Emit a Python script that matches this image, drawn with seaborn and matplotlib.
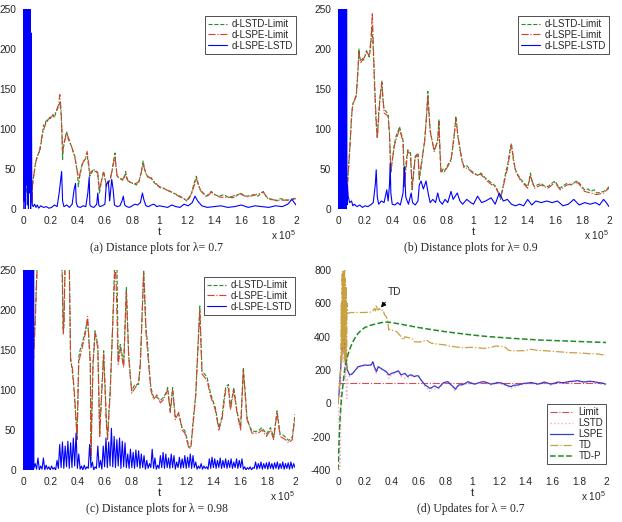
import numpy as np
import matplotlib
matplotlib.use("Agg")
import matplotlib.pyplot as plt
import seaborn as sns

# ---------------- data (t in units of 1e5) ----------------
x_ticks = [0, 0.2, 0.4, 0.6, 0.8, 1.0, 1.2, 1.4, 1.6, 1.8, 2.0]
x_tick_labels = ['0', '0.2', '0.4', '0.6', '0.8', '1', '1.2', '1.4', '1.6', '1.8', '2']
dist_y_ticks = [0, 50, 100, 150, 200, 250]
upd_y_ticks = [-400, -200, 0, 200, 400, 600, 800]
dist_labels = ['d-LSTD-Limit', 'd-LSPE-Limit', 'd-LSPE-LSTD']
upd_labels = ['Limit', 'LSTD', 'LSPE', 'TD', 'TD-P']
captions = ['(a) Distance plots for λ= 0.7', '(b) Distance plots for λ= 0.9',
            '(c) Distance plots for λ = 0.98', '(d) Updates for λ = 0.7']

# (a) lambda = 0.7
a_green = [(0,0),(0.004,420),(0.008,30),(0.012,400),(0.016,60),(0.02,380),(0.024,20),(0.028,350),(0.032,40),
 (0.036,300),(0.04,15),(0.044,280),(0.048,30),(0.052,240),(0.056,60),(0.06,20),(0.063,7),(0.068,25),(0.075,38),
 (0.083,45),(0.09,57),(0.1,62),(0.11,68),(0.125,74),(0.14,90),(0.15,105),(0.16,103),(0.17,112),(0.18,110),(0.19,115),
 (0.2,113),(0.21,116),(0.22,118),(0.23,114),(0.24,120),(0.25,124),(0.26,128),(0.27,133),(0.28,118),(0.285,95),
 (0.29,62),(0.295,75),(0.3,80),(0.31,90),(0.32,97),(0.33,88),(0.34,84),(0.357,78),(0.37,70),(0.38,66),(0.39,55),
 (0.4,43),(0.405,28),(0.415,40),(0.43,53),(0.44,58),(0.455,62),(0.47,66),(0.48,55),(0.49,41),(0.5,44),(0.515,49),
 (0.53,47),(0.547,45),(0.56,20),(0.575,35),(0.59,47),(0.6,40),(0.61,28),(0.625,32),(0.64,37),(0.655,50),(0.665,62),
 (0.674,70),(0.68,55),(0.69,41),(0.71,38),(0.73,36),(0.745,40),(0.752,47),(0.76,38),(0.77,35),(0.79,33),(0.81,32),
 (0.83,30),(0.85,35),(0.865,45),(0.875,55),(0.88,60),(0.89,50),(0.905,43),(0.92,38),(0.94,39),(0.96,33),(0.98,30),
 (1.0,28),(1.02,27),(1.05,24),(1.08,22),(1.1,20),(1.13,18),(1.15,16),(1.17,14),(1.2,10),(1.22,14),(1.235,20),
 (1.25,30),(1.265,38),(1.27,41),(1.285,30),(1.3,24),(1.32,20),(1.345,16),(1.36,19),(1.38,22),(1.4,18),(1.42,17),
 (1.44,16),(1.47,18),(1.5,15),(1.54,14),(1.57,17),(1.59,20),(1.62,17),(1.64,16),(1.67,17),(1.69,18),(1.72,16),
 (1.74,19),(1.76,22),(1.78,16),(1.8,13),(1.83,12),(1.86,10),(1.88,13),(1.91,12),(1.94,11),(1.96,12),(1.98,13),(2.0,14)]
a_red = [(0,0),(0.005,380),(0.01,50),(0.015,360),(0.02,30),(0.025,330),(0.03,40),(0.035,300),(0.04,20),(0.045,260),
 (0.05,50),(0.055,200),(0.06,30),(0.065,12),(0.07,30),(0.08,44),(0.09,55),(0.1,64),(0.12,72),(0.14,92),(0.16,104),
 (0.18,111),(0.2,114),(0.22,117),(0.24,121),(0.26,130),(0.27,143),(0.28,122),(0.29,72),(0.3,82),(0.32,95),(0.34,86),
 (0.36,76),(0.38,64),(0.4,45),(0.41,38),(0.43,55),(0.455,63),(0.47,72),(0.49,44),(0.515,50),(0.547,46),(0.56,24),
 (0.59,46),(0.61,30),(0.64,38),(0.674,66),(0.69,40),(0.73,37),(0.752,44),(0.77,35),(0.81,31),(0.85,34),(0.88,56),
 (0.905,42),(0.94,38),(0.98,31),(1.0,27),(1.05,24),(1.1,20),(1.15,15),(1.2,11),(1.235,19),(1.27,38),(1.3,23),
 (1.345,15),(1.38,21),(1.44,15),(1.5,14),(1.59,19),(1.64,15),(1.69,17),(1.76,21),(1.8,12),(1.86,11),(1.91,11),
 (1.96,11),(2.0,13)]
a_blue = [(0,0),(0.004,400),(0.008,10),(0.012,380),(0.016,0),(0.02,420),(0.024,30),(0.028,400),(0.032,5),(0.036,350),
 (0.04,0),(0.044,300),(0.048,20),(0.052,260),(0.056,0),(0.06,220),(0.064,40),(0.068,5),(0.075,3),(0.085,6),(0.095,2),
 (0.105,5),(0.115,1),(0.13,4),(0.15,2),(0.17,3),(0.19,1),(0.21,2),(0.23,5),(0.25,3),(0.265,20),(0.275,35),(0.283,47),
 (0.29,10),(0.3,3),(0.32,5),(0.34,2),(0.36,6),(0.375,25),(0.385,32),(0.39,8),(0.4,3),(0.42,2),(0.44,4),(0.46,3),
 (0.475,20),(0.485,40),(0.49,5),(0.5,3),(0.52,2),(0.54,6),(0.548,20),(0.555,5),(0.565,3),(0.58,4),(0.6,6),(0.61,30),
 (0.625,35),(0.635,10),(0.65,37),(0.66,25),(0.67,5),(0.69,3),(0.71,4),(0.725,10),(0.735,16),(0.745,5),(0.76,3),
 (0.78,2),(0.8,4),(0.82,6),(0.84,5),(0.86,8),(0.875,20),(0.885,12),(0.9,4),(0.92,3),(0.94,5),(0.96,6),(0.98,3),
 (1.0,4),(1.03,3),(1.06,2),(1.09,5),(1.12,3),(1.15,2),(1.18,6),(1.21,4),(1.24,8),(1.26,16),(1.28,10),(1.31,4),
 (1.35,2),(1.4,3),(1.45,4),(1.5,2),(1.55,3),(1.6,5),(1.65,2),(1.7,4),(1.75,3),(1.8,2),(1.85,4),(1.9,3),(1.94,6),
 (1.97,12),(2.0,5)]

# (b) lambda = 0.9
b_green = [(0,0),(0.004,400),(0.008,20),(0.012,380),(0.016,50),(0.02,350),(0.024,30),(0.028,320),(0.032,60),
 (0.036,300),(0.04,40),(0.044,270),(0.048,60),(0.052,200),(0.056,40),(0.06,5),(0.065,20),(0.075,45),(0.086,74),
 (0.095,100),(0.105,125),(0.11,132),(0.12,135),(0.135,141),(0.145,165),(0.155,200),(0.16,190),(0.167,185),(0.18,188),
 (0.19,186),(0.2,192),(0.21,198),(0.22,195),(0.23,190),(0.24,200),(0.25,228),(0.26,200),(0.27,160),(0.28,110),
 (0.29,90),(0.3,120),(0.31,140),(0.324,160),(0.33,140),(0.34,124),(0.355,122),(0.37,118),(0.38,95),(0.385,70),
 (0.39,45),(0.4,60),(0.417,82),(0.43,92),(0.445,98),(0.454,103),(0.465,95),(0.48,86),(0.49,28),(0.5,55),(0.515,74),
 (0.525,72),(0.535,70),(0.547,24),(0.56,50),(0.57,66),(0.59,70),(0.6,37),(0.62,60),(0.64,87),(0.655,120),(0.663,147),
 (0.67,125),(0.68,99),(0.695,85),(0.71,74),(0.725,80),(0.736,87),(0.745,112),(0.75,78),(0.76,45),(0.775,50),
 (0.785,47),(0.81,55),(0.834,62),(0.85,80),(0.86,95),(0.87,116),(0.885,90),(0.9,76),(0.915,60),(0.93,53),(0.945,55),
 (0.957,53),(0.98,48),(1.006,45),(1.03,42),(1.055,45),(1.08,40),(1.1,37),(1.13,33),(1.166,28),(1.185,20),(1.2,12),
 (1.22,30),(1.24,48),(1.25,53),(1.27,75),(1.28,82),(1.295,60),(1.31,49),(1.33,42),(1.35,37),(1.37,33),(1.4,28),
 (1.41,35),(1.42,45),(1.435,32),(1.45,28),(1.47,30),(1.5,32),(1.52,29),(1.55,28),(1.57,31),(1.6,35),(1.62,30),
 (1.64,26),(1.66,29),(1.69,32),(1.72,30),(1.75,34),(1.77,35),(1.8,28),(1.82,24),(1.845,25),(1.865,22),(1.89,24),
 (1.91,20),(1.94,21),(1.96,22),(1.98,24),(2.0,28)]
b_red = [(0,0),(0.005,380),(0.01,40),(0.015,360),(0.02,20),(0.025,330),(0.03,50),(0.035,300),(0.04,30),(0.045,250),
 (0.05,60),(0.055,150),(0.06,8),(0.07,30),(0.086,70),(0.1,118),(0.11,130),(0.135,143),(0.155,195),(0.167,183),
 (0.19,188),(0.21,196),(0.23,192),(0.245,215),(0.253,245),(0.26,210),(0.27,150),(0.29,88),(0.31,138),(0.324,158),
 (0.34,120),(0.37,116),(0.38,92),(0.39,48),(0.417,80),(0.454,100),(0.48,84),(0.49,30),(0.515,72),(0.535,68),
 (0.547,27),(0.57,64),(0.59,68),(0.6,40),(0.64,85),(0.663,140),(0.68,97),(0.71,72),(0.736,85),(0.745,108),(0.76,47),
 (0.785,46),(0.834,60),(0.87,112),(0.9,74),(0.93,51),(0.957,51),(1.006,43),(1.055,43),(1.1,35),(1.166,26),(1.2,14),
 (1.25,50),(1.28,80),(1.31,47),(1.35,35),(1.4,26),(1.42,42),(1.45,26),(1.5,30),(1.55,26),(1.6,33),(1.64,24),
 (1.69,30),(1.77,33),(1.82,22),(1.865,20),(1.91,18),(1.96,20),(2.0,26)]
b_blue = [(0,0),(0.003,400),(0.006,0),(0.009,400),(0.012,0),(0.015,400),(0.018,0),(0.021,400),(0.024,0),(0.027,400),
 (0.03,0),(0.033,400),(0.036,0),(0.039,400),(0.042,0),(0.045,400),(0.048,0),(0.051,400),(0.054,0),(0.057,400),
 (0.06,0),(0.063,400),(0.066,5),(0.07,30),(0.075,16),(0.085,8),(0.1,10),(0.11,4),(0.12,6),(0.14,3),(0.16,5),(0.18,2),
 (0.2,4),(0.22,3),(0.24,5),(0.26,8),(0.275,30),(0.282,49),(0.29,15),(0.3,6),(0.32,10),(0.34,8),(0.36,24),(0.37,10),
 (0.38,30),(0.385,57),(0.39,20),(0.4,6),(0.42,5),(0.44,8),(0.46,5),(0.48,20),(0.49,53),(0.5,15),(0.52,6),(0.54,20),
 (0.55,8),(0.57,5),(0.59,10),(0.6,30),(0.613,35),(0.63,25),(0.65,35),(0.665,20),(0.68,8),(0.7,12),(0.72,8),
 (0.736,20),(0.75,10),(0.77,6),(0.79,12),(0.81,8),(0.834,22),(0.85,12),(0.88,20),(0.9,10),(0.92,6),(0.95,12),
 (0.98,8),(1.0,6),(1.03,16),(1.06,8),(1.09,10),(1.13,14),(1.16,6),(1.19,20),(1.22,10),(1.25,12),(1.28,6),(1.31,4),
 (1.34,6),(1.37,4),(1.4,12),(1.43,5),(1.46,10),(1.5,8),(1.54,10),(1.58,8),(1.62,10),(1.66,4),(1.7,6),(1.74,12),
 (1.78,5),(1.82,8),(1.86,6),(1.9,8),(1.93,5),(1.96,12),(1.98,8),(2.0,3)]

# (c) lambda = 0.98
c_green = [(0,0),(0.01,300),(0.03,280),(0.05,300),(0.07,200),(0.075,120),(0.078,149),(0.085,170),(0.09,190),
 (0.095,215),(0.1,240),(0.108,270),(0.12,320),(0.2,400),(0.28,300),(0.285,260),(0.29,230),(0.295,175),(0.3,178),
 (0.31,260),(0.33,280),(0.34,260),(0.345,200),(0.35,136),(0.36,128),(0.37,110),(0.377,95),(0.387,70),(0.397,41),
 (0.405,100),(0.41,141),(0.42,150),(0.434,157),(0.445,165),(0.458,174),(0.475,188),(0.485,160),(0.495,136),(0.5,12),
 (0.507,80),(0.515,136),(0.53,174),(0.54,165),(0.55,157),(0.557,100),(0.564,45),(0.57,70),(0.58,103),(0.593,149),
 (0.6,120),(0.613,62),(0.622,41),(0.63,70),(0.64,95),(0.655,160),(0.667,219),(0.675,270),(0.69,270),(0.7,136),
 (0.708,150),(0.716,157),(0.728,145),(0.74,132),(0.75,180),(0.76,228),(0.768,190),(0.777,145),(0.79,116),(0.8,99),
 (0.813,104),(0.826,107),(0.85,107),(0.863,136),(0.875,190),(0.887,250),(0.895,220),(0.904,178),(0.915,160),
 (0.924,136),(0.94,103),(0.96,91),(0.985,91),(1.01,87),(1.034,91),(1.05,96),(1.064,103),(1.075,85),(1.083,74),
 (1.1,103),(1.12,66),(1.145,70),(1.17,53),(1.19,49),(1.205,40),(1.22,28),(1.235,30),(1.25,60),(1.27,95),(1.285,150),
 (1.3,205),(1.316,124),(1.335,120),(1.353,116),(1.38,95),(1.4,85),(1.414,78),(1.44,53),(1.463,66),(1.475,85),
 (1.49,103),(1.51,107),(1.525,78),(1.55,103),(1.573,74),(1.6,53),(1.61,90),(1.62,128),(1.635,95),(1.647,66),
 (1.665,55),(1.684,49),(1.71,48),(1.73,49),(1.757,53),(1.79,45),(1.82,53),(1.843,41),(1.868,74),(1.89,45),(1.91,44),
 (1.93,41),(1.953,37),(1.98,41),(2.0,70)]
c_red = [(0,0),(0.012,280),(0.04,300),(0.07,180),(0.078,140),(0.09,185),(0.1,235),(0.11,275),(0.2,380),(0.28,290),
 (0.29,240),(0.296,170),(0.302,185),(0.31,265),(0.34,265),(0.35,140),(0.365,125),(0.38,92),(0.398,38),(0.41,135),
 (0.434,152),(0.458,170),(0.475,192),(0.495,132),(0.5,15),(0.515,132),(0.53,170),(0.55,152),(0.564,42),(0.58,100),
 (0.593,145),(0.613,58),(0.622,38),(0.64,92),(0.667,215),(0.68,265),(0.7,132),(0.716,152),(0.74,128),(0.76,222),
 (0.777,140),(0.8,96),(0.826,103),(0.85,110),(0.863,132),(0.887,246),(0.904,172),(0.924,132),(0.94,100),(0.96,88),
 (0.985,94),(1.01,84),(1.034,88),(1.064,100),(1.083,72),(1.1,100),(1.12,63),(1.145,72),(1.17,50),(1.19,46),
 (1.22,27),(1.235,28),(1.27,92),(1.3,200),(1.316,120),(1.353,112),(1.38,92),(1.414,75),(1.44,50),(1.463,63),
 (1.49,100),(1.51,104),(1.525,75),(1.55,100),(1.573,72),(1.6,50),(1.62,124),(1.647,63),(1.684,46),(1.73,46),
 (1.757,50),(1.79,42),(1.82,50),(1.843,38),(1.868,72),(1.89,42),(1.93,38),(1.953,34),(1.98,38),(2.0,66)]
c_blue_early = [0,400,0,400,5,400,0,400,0,400,180,400,0,400,0,400,0,400,10,400,0,400,0,400,0,400,0,400,
                0,400,0,400,0,400,0,400,0,400,0,400]   # every 0.002 from t = 0
c_blue = [2,8,1,15,0,5,1,15,0,6, 1,4,0,5,1,3,0,12,2,32, 3,35,2,30,4,36,2,34,3,40,
          5,46,2,20,1,5,0,6,1,4, 2,32,3,10,0,4,2,30,3,12, 1,30,4,40,3,35,5,52,4,42,
          3,38,5,40,2,36,4,34,3,20, 2,26,3,22,2,25,4,24,2,20, 3,18,1,12,2,8,3,26,2,15,
          1,6,2,18,3,22,2,20,3,15, 2,20,3,18,1,10,3,16,2,14, 3,18,2,16,3,20,2,18,3,10,
          1,5,2,8,1,5,2,4,1,14, 2,16,3,14,2,12,3,15,2,12, 3,14,2,12,3,14,2,10,3,14,
          2,12,3,14,1,4,0,3,1,4, 0,3,2,10,1,8,2,10,1,8, 2,9,1,10,2,8,1,9,2,10,
          1,8,2,10,1,8,2,9,1,10, 2,8,3]                 # every 0.01 from t = 0.08

# (d) updates, lambda = 0.7
d_limit = [(0,125),(2.0,125)]
d_lstd = [(0,0),(0.008,-150),(0.012,-400),(0.018,-300),(0.022,200),(0.028,420),(0.032,300),(0.036,380),(0.04,250),
 (0.045,420),(0.05,150),(0.055,300),(0.06,110),(0.065,30),(0.07,140),(0.087,165),(0.1,172),(0.13,198),(0.15,215),
 (0.2,226),(0.25,228),(0.26,245),(0.27,215),(0.286,180),(0.3,215),(0.32,205),(0.36,185),(0.38,150),(0.4,172),
 (0.45,190),(0.47,160),(0.5,150),(0.52,150),(0.55,165),(0.6,160),(0.62,135),(0.65,100),(0.67,85),(0.685,70),
 (0.7,88),(0.75,85),(0.79,120),(0.82,125),(0.845,105),(0.875,72),(0.9,105),(0.95,115),(1.0,118),(1.045,118),
 (1.09,126),(1.14,110),(1.19,120),(1.24,110),(1.29,90),(1.34,105),(1.39,115),(1.44,120),(1.49,110),(1.54,124),
 (1.59,110),(1.64,124),(1.69,120),(1.74,128),(1.79,132),(1.84,124),(1.89,128),(1.94,120),(2.0,110)]
d_lspe = [(0,0),(0.008,60),(0.015,150),(0.025,280),(0.03,330),(0.037,380),(0.045,430),(0.05,350),(0.055,300),
 (0.062,250),(0.07,200),(0.087,170),(0.1,175),(0.11,180),(0.13,200),(0.15,220),(0.175,225),(0.2,230),(0.225,228),
 (0.25,232),(0.26,250),(0.265,240),(0.27,220),(0.28,205),(0.286,190),(0.3,220),(0.32,210),(0.34,200),(0.36,190),
 (0.37,180),(0.38,170),(0.4,180),(0.42,185),(0.45,195),(0.46,185),(0.47,170),(0.485,175),(0.5,180),(0.52,160),
 (0.535,170),(0.55,170),(0.57,160),(0.585,165),(0.6,165),(0.62,140),(0.635,125),(0.65,110),(0.67,100),(0.685,90),
 (0.7,95),(0.72,105),(0.735,98),(0.75,92),(0.77,110),(0.79,125),(0.82,130),(0.845,110),(0.86,100),(0.875,85),
 (0.9,110),(0.93,112),(0.95,120),(0.97,130),(1.0,120),(1.02,115),(1.045,122),(1.07,128),(1.09,130),(1.12,122),
 (1.14,115),(1.17,120),(1.19,125),(1.22,122),(1.24,115),(1.27,105),(1.29,100),(1.31,108),(1.34,110),(1.37,116),
 (1.39,120),(1.42,122),(1.44,125),(1.47,120),(1.49,115),(1.52,122),(1.54,128),(1.57,120),(1.59,115),(1.62,122),
 (1.64,128),(1.67,124),(1.69,125),(1.72,130),(1.74,132),(1.77,134),(1.79,136),(1.82,130),(1.84,128),(1.87,132),
 (1.89,132),(1.92,128),(1.94,125),(1.97,122),(2.0,115)]
d_td = [(0,0),(0.01,100),(0.02,200),(0.025,600),(0.028,250),(0.031,780),(0.034,350),(0.037,800),(0.04,300),
 (0.043,790),(0.046,400),(0.049,800),(0.052,250),(0.055,750),(0.058,300),(0.061,700),(0.064,200),(0.067,600),
 (0.07,540),(0.1,545),(0.15,545),(0.2,545),(0.25,548),(0.265,560),(0.274,570),(0.28,555),(0.286,590),(0.293,565),
 (0.3,560),(0.31,570),(0.32,555),(0.336,560),(0.348,530),(0.36,520),(0.37,500),(0.375,470),(0.378,440),(0.39,445),
 (0.4,440),(0.42,435),(0.435,430),(0.45,420),(0.46,410),(0.475,395),(0.485,380),(0.495,392),(0.5,400),(0.52,395),
 (0.55,390),(0.56,380),(0.57,370),(0.6,368),(0.62,370),(0.64,375),(0.66,380),(0.68,368),(0.7,360),(0.75,355),
 (0.8,350),(0.85,342),(0.9,336),(0.95,334),(1.0,336),(1.05,332),(1.1,330),(1.15,338),(1.18,344),(1.2,342),
 (1.23,340),(1.25,335),(1.27,320),(1.29,316),(1.33,315),(1.39,316),(1.44,324),(1.49,318),(1.54,316),(1.6,312),
 (1.64,310),(1.7,306),(1.74,304),(1.8,302),(1.84,300),(1.9,297),(1.94,296),(2.0,288)]
d_tdp = [(0,-400),(0.005,-300),(0.01,-180),(0.015,-100),(0.02,-30),(0.025,20),(0.03,60),(0.037,110),(0.045,170),
 (0.05,200),(0.06,245),(0.07,280),(0.085,320),(0.1,350),(0.125,390),(0.15,420),(0.175,440),(0.2,455),(0.25,470),
 (0.3,480),(0.35,488),(0.4,485),(0.5,470),(0.6,455),(0.7,442),(0.8,430),(0.9,420),(1.0,410),(1.1,402),(1.2,396),
 (1.3,390),(1.4,385),(1.5,380),(1.6,377),(1.7,374),(1.8,371),(1.9,368),(2.0,365)]

# ---------------- styling ----------------
sns.set_style("white")
plt.rcParams['font.family'] = ['Liberation Sans', 'DejaVu Sans']
plt.rcParams['axes.unicode_minus'] = False
plt.rcParams['mathtext.fontset'] = 'custom'
plt.rcParams['mathtext.rm'] = 'Liberation Sans'

GREEN, RED, BLUE = '#2a8a2a', '#d9402a', '#0000ff'
C_LIMIT, C_LSTD, C_LSPE, C_TD, C_TDP = '#d84a5a', '#f0a8c8', '#3a3ad0', '#c9a040', '#1f8a2a'

fig = plt.figure(figsize=(6.22, 5.22), dpi=100)
positions = [(23/622, 1-209/522, 273/622, 200/522), (338/622, 1-209/522, 271/622, 200/522),
             (23/622, 1-470/522, 272/622, 200/522), (338/622, 1-470/522, 268/622, 200/522)]
axes = [fig.add_axes(p) for p in positions]


def unzip(pairs):
    return [p[0] for p in pairs], [p[1] for p in pairs]


def line(ax, pairs, color, ls, lw, label):
    t, y = unzip(pairs)
    sns.lineplot(x=t, y=y, ax=ax, color=color, linestyle=ls, linewidth=lw,
                 label=label, estimator=None, sort=False)


def finish(ax, yticks, ylim):
    ax.set_xlim(0, 2)
    ax.set_ylim(*ylim)
    ax.set_xticks(x_ticks)
    ax.set_xticklabels(x_tick_labels)
    ax.set_yticks(yticks)
    ax.tick_params(length=0, labelsize=7.3, pad=5)
    for s in ax.spines.values():
        s.set_visible(False)
    ax.set_xlabel('')
    ax.set_ylabel('')
    ax.text(0.5, -0.115, 't', transform=ax.transAxes, ha='center', va='center', fontsize=8)
    ax.text(1.0, -0.13, r'x 10$^5$', transform=ax.transAxes, ha='right', va='center', fontsize=7.3)


dist_sets = [(a_green, a_red, a_blue), (b_green, b_red, b_blue), (c_green, c_red, None)]
for ax, (g, r, b) in zip(axes[:3], dist_sets):
    line(ax, g, GREEN, '--', 0.8, dist_labels[0])
    line(ax, r, RED, '-.', 0.8, dist_labels[1])
    if b is not None:
        line(ax, b, BLUE, '-', 0.8, dist_labels[2])
    else:
        t_early = [round(0.002 * i, 4) for i in range(len(c_blue_early))]
        t_rest = [round(0.08 + 0.01 * i, 4) for i in range(len(c_blue))]
        sns.lineplot(x=t_early + t_rest, y=c_blue_early + c_blue, ax=ax, color=BLUE,
                     linestyle='-', linewidth=0.8, label=dist_labels[2], estimator=None, sort=False)
    finish(ax, dist_y_ticks, (0, 250))
    leg = ax.legend(loc='upper right', bbox_to_anchor=(1.0, 0.965), borderaxespad=0.0,
                    fontsize=7, handlelength=1.9, handletextpad=0.5, labelspacing=0.1,
                    borderpad=0.3, fancybox=False, framealpha=1, edgecolor='#333333')
    leg.get_frame().set_linewidth(0.6)

ax = axes[3]
line(ax, d_limit, C_LIMIT, '-.', 0.8, upd_labels[0])
line(ax, d_lstd, C_LSTD, ':', 1.0, upd_labels[1])
line(ax, d_lspe, C_LSPE, '-', 0.9, upd_labels[2])
line(ax, d_td, C_TD, '-.', 0.9, upd_labels[3])
line(ax, d_tdp, C_TDP, '--', 1.1, upd_labels[4])
finish(ax, upd_y_ticks, (-400, 800))
leg = ax.legend(loc='lower right', bbox_to_anchor=(1.0, 0.03), borderaxespad=0.0,
                fontsize=7, handlelength=2.4, handletextpad=0.5, labelspacing=0.1,
                borderpad=0.3, fancybox=False, framealpha=1, edgecolor='#333333')
leg.get_frame().set_linewidth(0.6)
ax.annotate('TD', xy=(0.32, 575), xytext=(0.42, 668), ha='center', va='center', fontsize=7.3,
            arrowprops=dict(arrowstyle='-|>', color='black', lw=0.8, shrinkA=2, shrinkB=0,
                            mutation_scale=7))

caption_pos = [(157, 248), (471, 248), (157, 509), (471, 509)]
for (cx, cy), cap in zip(caption_pos, captions):
    fig.text(cx/622, 1-cy/522, cap, ha='center', va='center', fontsize=8.5,
             family=['Liberation Serif', 'DejaVu Serif'])

fig.savefig('out.png', dpi=100)
